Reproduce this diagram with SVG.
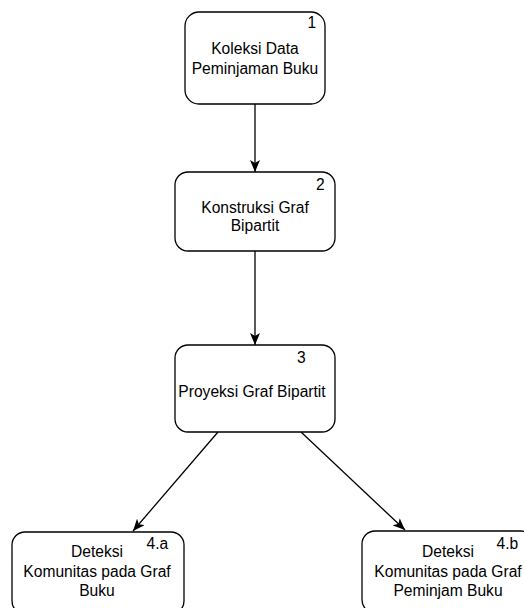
<svg xmlns="http://www.w3.org/2000/svg" width="524" height="608" viewBox="0 0 524 608">
  <style>
    .box { fill: #ffffff; stroke: #000000; stroke-width: 1.3; }
    .lbl { font-family: "Liberation Sans", Arial, sans-serif; font-size: 15.6px; fill: #000000; text-anchor: middle; }
    .num { font-family: "Liberation Sans", Arial, sans-serif; font-size: 15.6px; fill: #000000; }
    .edge { stroke: #000000; stroke-width: 1.3; fill: none; marker-end: url(#arr); }
  </style>
  <defs>
    <marker id="arr" viewBox="0 0 12 10" refX="12" refY="5" markerWidth="12" markerHeight="10" markerUnits="userSpaceOnUse" orient="auto">
      <path d="M0,0 L12,5 L0,10 L3,5 Z" fill="#000000"/>
    </marker>
  </defs>
  <rect width="524" height="608" fill="#ffffff"/>

  <g id="connectors">
    <line class="edge" x1="255" y1="104" x2="255" y2="172"/>
    <line class="edge" x1="255" y1="251" x2="255" y2="345"/>
    <line class="edge" x1="218" y1="432" x2="133" y2="531"/>
    <line class="edge" x1="301" y1="432" x2="405" y2="530"/>
  </g>

  <g id="node1">
    <rect class="box" x="185" y="12" width="140" height="92" rx="14" ry="14"/>
    <text class="num" x="307.5" y="28">1</text>
    <text class="lbl" x="255" y="54">Koleksi Data</text>
    <text class="lbl" x="255" y="74">Peminjaman Buku</text>
  </g>

  <g id="node2">
    <rect class="box" x="175" y="172" width="160" height="79" rx="13" ry="13"/>
    <text class="num" x="316" y="190">2</text>
    <text class="lbl" x="255" y="213">Konstruksi Graf</text>
    <text class="lbl" x="255" y="231">Bipartit</text>
  </g>

  <g id="node3">
    <rect class="box" x="175" y="345" width="160" height="87" rx="13" ry="13"/>
    <text class="num" x="297" y="363">3</text>
    <text class="lbl" x="252" y="397">Proyeksi Graf Bipartit</text>
  </g>

  <g id="node4a">
    <rect class="box" x="12" y="532" width="172" height="82" rx="13" ry="13"/>
    <text class="num" x="146.5" y="549">4.a</text>
    <text class="lbl" x="97" y="557">Deteksi</text>
    <text class="lbl" x="97" y="577">Komunitas pada Graf</text>
    <text class="lbl" x="97" y="596">Buku</text>
  </g>

  <g id="node4b">
    <rect class="box" x="362" y="531" width="172" height="82" rx="13" ry="13"/>
    <text class="num" x="496.5" y="549">4.b</text>
    <text class="lbl" x="448" y="557">Deteksi</text>
    <text class="lbl" x="448" y="577">Komunitas pada Graf</text>
    <text class="lbl" x="448" y="596">Peminjam Buku</text>
  </g>
</svg>
